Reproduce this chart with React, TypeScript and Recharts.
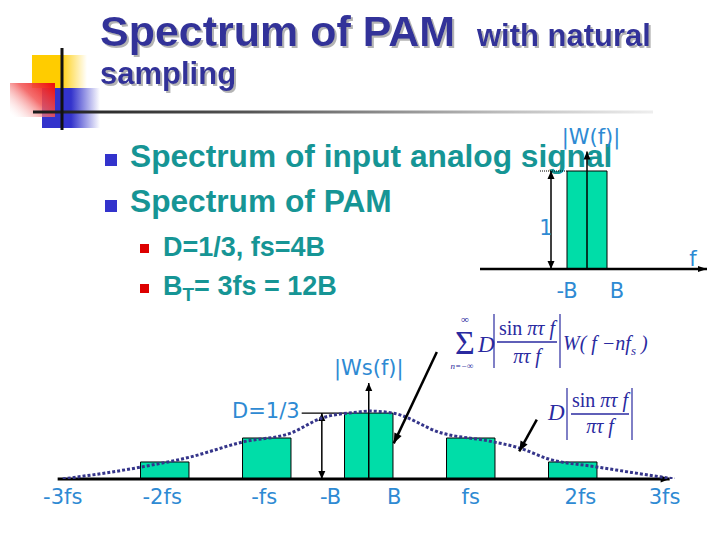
import React from 'react';
import { ComposedChart, Line, XAxis, YAxis, ReferenceArea, ReferenceLine, ReferenceDot } from 'recharts';

// ---------- Input analog signal spectrum |W(f)| (frequency in units of B) ----------
const inputBandLow = -1;
const inputBandHigh = 1;
const inputLevel = 1;
const inputTicks = [-1, 1.5];
const inputTickLabels = ['-B', 'B'];

// ---------- PAM spectrum |Ws(f)| (frequency in units of B, fs = 4B) ----------
const pamCenters = [-8, -4, 0, 4, 8];
const pamHeights = [0.086, 0.207, 0.333, 0.207, 0.086];
const pamHalfWidth = 0.95;

// sinc envelope D|sin(pi tau f)/(pi tau f)|
const envF = [-12, -8.9, -7, -4.94, -3.06, -1.84, -0.43, 0, 0.94, 2.86, 4.7, 5.9, 7.06, 8.94, 12];
const envV = [0, 0.061, 0.111, 0.187, 0.232, 0.308, 0.338, 0.343, 0.333, 0.232, 0.192, 0.157, 0.101, 0.061, 0];

const pamTicks = [-12, -8.1, -4.1, -1.5, 1, 4, 8.3, 11.6];
const pamTickLabels = ['-3fs', '-2fs', '-fs', '-B', 'B', 'fs', '2fs', '3fs'];

const envData = envF.map((f, i) => ({ f, v: envV[i] }));

const LABEL_BLUE = '#2e8ad3';
const LABEL_FONT = '"DejaVu Sans", Verdana, sans-serif';
const TEAL = '#169595';
const NAVY = '#333399';
const BAR_FILL = '#00dda8';
const FORMULA = '#2a2aa0';
const SERIF = '"Liberation Serif", "Times New Roman", serif';

type ArrowOpts = { stroke?: string; width?: number; head?: number; hw?: number; start?: boolean; end?: boolean; dash?: string };

function makeArrow(opts: ArrowOpts) {
  const { stroke = '#000', width = 1.5, head = 8, hw = 3.5, start = false, end = true, dash } = opts;
  return (p: any) => {
    const { x1, y1, x2, y2 } = p;
    const dx = x2 - x1;
    const dy = y2 - y1;
    const len = Math.hypot(dx, dy) || 1;
    const ux = dx / len;
    const uy = dy / len;
    const nx = -uy;
    const ny = ux;
    const poly = (tx: number, ty: number, dxu: number, dyu: number) => {
      const bx = tx - dxu * head;
      const by = ty - dyu * head;
      return `${tx},${ty} ${bx + nx * hw},${by + ny * hw} ${bx - nx * hw},${by - ny * hw}`;
    };
    return (
      <g>
        <line x1={x1} y1={y1} x2={x2} y2={y2} stroke={stroke} strokeWidth={width} strokeDasharray={dash} />
        {end && <polygon points={poly(x2, y2, ux, uy)} fill={stroke} />}
        {start && <polygon points={poly(x1, y1, -ux, -uy)} fill={stroke} />}
      </g>
    );
  };
}

const textShape = (label: React.ReactNode, anchor: 'start' | 'middle' | 'end' = 'middle', size = 21) => (p: any) => (
  <text x={p.cx} y={p.cy} textAnchor={anchor} fontSize={size} fontFamily={LABEL_FONT} fill={LABEL_BLUE}>
    {label}
  </text>
);

const makeTick = (values: number[], labels: string[], dy: number) => (p: any) => {
  const idx = values.indexOf(p.payload.value);
  return (
    <text x={p.x} y={p.y + dy} textAnchor="middle" fontSize={21} fontFamily={LABEL_FONT} fill={LABEL_BLUE}>
      {idx >= 0 ? labels[idx] : ''}
    </text>
  );
};

function InputSpectrum() {
  return (
    <div style={{ position: 'absolute', left: 430, top: 120, width: 290, height: 190 }}>
      <ComposedChart width={290} height={190} data={[]} margin={{ top: 26.5, right: 3, bottom: 11, left: 47 }}>
        <XAxis
          type="number"
          dataKey="f"
          domain={[-5.5, 6.5]}
          allowDataOverflow
          ticks={inputTicks}
          interval={0}
          axisLine={false}
          tickLine={false}
          tickSize={0}
          tickMargin={0}
          height={30}
          tick={makeTick(inputTicks, inputTickLabels, 29)}
        />
        <YAxis type="number" domain={[0, 1.25]} allowDataOverflow hide />
        <ReferenceArea
          x1={inputBandLow}
          x2={inputBandHigh}
          y1={0}
          y2={inputLevel}
          fill={BAR_FILL}
          fillOpacity={1}
          stroke="#000"
          strokeWidth={1}
          ifOverflow="visible"
        />
        <ReferenceLine segment={[{ x: -5.35, y: 0 }, { x: 6.0, y: 0 }]} ifOverflow="visible" shape={makeArrow({ width: 2.5, head: 9, hw: 3 })} />
        <ReferenceLine segment={[{ x: 0, y: 0 }, { x: 0, y: 1.2 }]} ifOverflow="visible" shape={makeArrow({ width: 1.5, head: 8, hw: 3.5 })} />
        <ReferenceLine segment={[{ x: -1.8, y: 0 }, { x: -1.8, y: inputLevel }]} ifOverflow="visible" shape={makeArrow({ width: 1.5, head: 8, hw: 3.5, start: true })} />
        <ReferenceLine segment={[{ x: -2.35, y: inputLevel }, { x: inputBandLow, y: inputLevel }]} ifOverflow="visible" shape={makeArrow({ width: 1, end: false, dash: '1 1' })} />
        <ReferenceDot x={0.2} y={1.276} ifOverflow="visible" shape={textShape('|W(f)|')} />
        <ReferenceDot x={-2.05} y={0.35} ifOverflow="visible" shape={textShape('1')} />
        <ReferenceDot x={5.3} y={0.03} ifOverflow="visible" shape={textShape('f')} />
      </ComposedChart>
    </div>
  );
}

function PamSpectrum() {
  return (
    <div style={{ position: 'absolute', left: 0, top: 340, width: 720, height: 200 }}>
      <ComposedChart width={720} height={200} data={envData} margin={{ top: 40, right: 32.5, bottom: 21, left: 50 }}>
        <XAxis
          type="number"
          dataKey="f"
          domain={[-12.5, 12.5]}
          allowDataOverflow
          ticks={pamTicks}
          interval={0}
          axisLine={false}
          tickLine={false}
          tickSize={0}
          tickMargin={0}
          height={40}
          tick={makeTick(pamTicks, pamTickLabels, 25)}
        />
        <YAxis type="number" domain={[0, 0.5]} allowDataOverflow hide />
        {pamCenters.map((c, i) => (
          <ReferenceArea
            key={i}
            x1={c - pamHalfWidth}
            x2={c + pamHalfWidth}
            y1={0}
            y2={pamHeights[i]}
            fill={BAR_FILL}
            fillOpacity={1}
            stroke="#000"
            strokeWidth={1}
            ifOverflow="visible"
          />
        ))}
        <ReferenceLine segment={[{ x: 0, y: 0 }, { x: 0, y: 0.485 }]} ifOverflow="visible" shape={makeArrow({ width: 1.5, head: 8, hw: 3.5 })} />
        <ReferenceLine segment={[{ x: -1.84, y: 0 }, { x: -1.84, y: 0.333 }]} ifOverflow="visible" shape={makeArrow({ width: 1.5, head: 8, hw: 3.5, start: true })} />
        <ReferenceLine segment={[{ x: -2.63, y: 0.333 }, { x: -0.95, y: 0.333 }]} ifOverflow="visible" shape={makeArrow({ width: 1.2, end: false })} />
        <ReferenceLine segment={[{ x: -12.2, y: 0 }, { x: 11.8, y: 0 }]} ifOverflow="visible" shape={makeArrow({ width: 3, head: 9, hw: 3.5 })} />
        <Line
          type="monotone"
          dataKey="v"
          stroke="#35358a"
          strokeWidth={3}
          strokeDasharray="3 2"
          dot={false}
          activeDot={false}
          isAnimationActive={false}
        />
        <ReferenceLine segment={[{ x: 2.67, y: 0.641 }, { x: 0.98, y: 0.18 }]} ifOverflow="visible" shape={makeArrow({ width: 2.5, head: 10, hw: 4 })} />
        <ReferenceLine segment={[{ x: 6.59, y: 0.3 }, { x: 5.9, y: 0.14 }]} ifOverflow="visible" shape={makeArrow({ width: 2.5, head: 10, hw: 4 })} />
        <ReferenceDot x={-2.71} y={0.31} ifOverflow="visible" shape={textShape('D=1/3', 'end')} />
        <ReferenceDot x={0} y={0.525} ifOverflow="visible" shape={textShape('|Ws(f)|')} />
      </ComposedChart>
    </div>
  );
}

function Slide() {
  const titleFont = '"Liberation Sans", Arial, sans-serif';
  return (
    <svg width={720} height={540} style={{ position: 'absolute', left: 0, top: 0 }}>
      <defs>
        <linearGradient id="gYel" x1="0" y1="0" x2="1" y2="0">
          <stop offset="0" stopColor="#ffcc00" stopOpacity={1} />
          <stop offset="0.5" stopColor="#ffcc00" stopOpacity={1} />
          <stop offset="1" stopColor="#ffcc00" stopOpacity={0} />
        </linearGradient>
        <linearGradient id="gBlue" x1="0" y1="0" x2="1" y2="0">
          <stop offset="0" stopColor="#3333cc" stopOpacity={1} />
          <stop offset="0.5" stopColor="#3333cc" stopOpacity={1} />
          <stop offset="1" stopColor="#3333cc" stopOpacity={0} />
        </linearGradient>
        <linearGradient id="gRed" x1="1" y1="0.1" x2="0" y2="0.9">
          <stop offset="0" stopColor="#ee1111" stopOpacity={1} />
          <stop offset="0.45" stopColor="#f25555" stopOpacity={0.85} />
          <stop offset="1" stopColor="#ffffff" stopOpacity={0.2} />
        </linearGradient>
        <linearGradient id="gRule" x1="0" y1="0" x2="1" y2="0">
          <stop offset="0" stopColor="#1a1a1a" />
          <stop offset="0.35" stopColor="#555555" />
          <stop offset="0.75" stopColor="#bbbbbb" />
          <stop offset="1" stopColor="#eeeeee" />
        </linearGradient>
        <filter id="titleShadow" x="-5%" y="-20%" width="110%" height="150%">
          <feDropShadow dx="2" dy="2" stdDeviation="0.4" floodColor="#b4b4b4" floodOpacity="1" />
        </filter>
      </defs>
      <rect x={0} y={0} width={720} height={540} fill="#ffffff" />
      {/* decoration */}
      <rect x={32} y={55} width={55} height={33} fill="url(#gYel)" />
      <rect x={42} y={88} width={58} height={40} fill="url(#gBlue)" />
      <rect x={10} y={83} width={45} height={34} fill="url(#gRed)" />
      <rect x={33} y={110.5} width={620} height={3} fill="url(#gRule)" />
      <rect x={60.5} y={48} width={3} height={82} fill="#111111" />

      {/* title */}
      <g fill={NAVY} fontFamily={titleFont} fontWeight="bold" filter="url(#titleShadow)">
        <text x={100} y={46} fontSize={43}>Spectrum of PAM</text>
        <text x={477} y={46} fontSize={31}>with natural</text>
        <text x={100} y={84} fontSize={31}>sampling</text>
      </g>

      {/* bullets */}
      <rect x={105} y={154} width={12} height={12} fill="#3333cc" />
      <rect x={105} y={200} width={12} height={12} fill="#3333cc" />
      <g fill={TEAL} fontFamily={titleFont} fontWeight="bold">
        <text x={130} y={167} fontSize={31.7}>Spectrum of input analog signal</text>
        <text x={130} y={212} fontSize={31.7}>Spectrum of PAM</text>
      </g>
      <rect x={140} y={244} width={9} height={9} fill="#dd0000" />
      <rect x={140} y={284} width={9} height={9} fill="#dd0000" />
      <g fill={TEAL} fontFamily={titleFont} fontWeight="bold" fontSize={27}>
        <text x={163} y={256}>D=1/3, fs=4B</text>
        <text x={163} y={295}>
          B<tspan fontSize={19} dy={6}>T</tspan>
          <tspan dy={-6}>= 3fs = 12B</tspan>
        </text>
      </g>

      {/* formula 1 */}
      <g fill={FORMULA} fontFamily={SERIF}>
        <text x={465} y={323} fontSize={11} textAnchor="middle">∞</text>
        <text x={465} y={354} fontSize={34} textAnchor="middle">Σ</text>
        <text x={462} y={369} fontSize={9} textAnchor="middle" fontStyle="italic">n=−∞</text>
        <text x={478} y={352} fontSize={23} fontStyle="italic">D</text>
        <text x={527} y={335} fontSize={20} textAnchor="middle">sin <tspan fontStyle="italic">πτ f</tspan></text>
        <text x={527} y={363} fontSize={20} textAnchor="middle" fontStyle="italic">πτ f</text>
        <text x={563} y={350} fontSize={20} fontStyle="italic">W( f −nf<tspan fontSize={13} dy={5}>s</tspan><tspan dy={-5}> )</tspan></text>
      </g>
      <g stroke={FORMULA}>
        <line x1={494} y1={314} x2={494} y2={368} strokeWidth={1.2} />
        <line x1={497} y1={342} x2={557} y2={342} strokeWidth={1.5} />
        <line x1={560} y1={314} x2={560} y2={368} strokeWidth={1.2} />
      </g>

      {/* formula 2 */}
      <g fill={FORMULA} fontFamily={SERIF}>
        <text x={548} y={420} fontSize={23} fontStyle="italic">D</text>
        <text x={600} y={407} fontSize={20} textAnchor="middle">sin <tspan fontStyle="italic">πτ f</tspan></text>
        <text x={600} y={433} fontSize={20} textAnchor="middle" fontStyle="italic">πτ f</text>
      </g>
      <g stroke={FORMULA}>
        <line x1={567} y1={388} x2={567} y2={440} strokeWidth={1.2} />
        <line x1={571} y1={414} x2={629} y2={414} strokeWidth={1.5} />
        <line x1={632} y1={388} x2={632} y2={440} strokeWidth={1.2} />
      </g>
    </svg>
  );
}

export default function App() {
  return (
    <div style={{ position: 'absolute', left: 0, top: 0, width: 720, height: 540, background: '#fff', overflow: 'hidden' }}>
      <Slide />
      <InputSpectrum />
      <PamSpectrum />
    </div>
  );
}
